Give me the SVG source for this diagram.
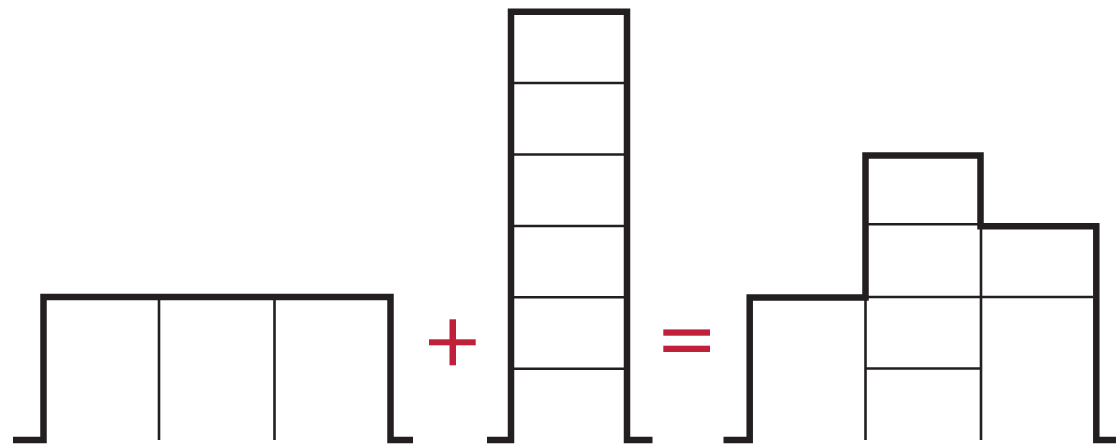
<svg xmlns="http://www.w3.org/2000/svg" width="1116" height="448" viewBox="0 0 1116 448">
<style>
.thick{fill:none;stroke:#231f20;stroke-width:6.5;stroke-linejoin:miter;stroke-linecap:butt}
.thin{fill:none;stroke:#231f20;stroke-width:2.6;stroke-linecap:butt}
.red{fill:#c1203b}
</style>
<rect width="1116" height="448" fill="#ffffff"/>
<g id="building-low">
<polyline class="thick" points="13,440 43.5,440 43.5,297 390.5,297 390.5,440 413,440"/>
<line class="thin" x1="159" y1="300" x2="159" y2="440"/>
<line class="thin" x1="274.5" y1="300" x2="274.5" y2="440"/>
</g>
<g id="plus">
<rect class="red" x="429" y="339.3" width="46.7" height="6"/>
<rect class="red" x="449.5" y="319.3" width="6.5" height="46"/>
</g>
<g id="building-tower">
<polyline class="thick" points="487,440 511,440 511,11.7 627,11.7 627,440 652.5,440"/>
<line class="thin" x1="514" y1="83" x2="624" y2="83"/>
<line class="thin" x1="514" y1="154.5" x2="624" y2="154.5"/>
<line class="thin" x1="514" y1="226" x2="624" y2="226"/>
<line class="thin" x1="514" y1="297.3" x2="624" y2="297.3"/>
<line class="thin" x1="514" y1="368.7" x2="624" y2="368.7"/>
</g>
<g id="equals">
<rect class="red" x="663.3" y="329.4" width="46.7" height="6.3"/>
<rect class="red" x="663.3" y="345.7" width="46.7" height="6.3"/>
</g>
<g id="building-combined">
<polyline class="thick" points="723.5,440 749.7,440 749.7,297.5 865.5,297.5 865.5,155.5 980.5,155.5 980.5,226.3 1096.3,226.3 1096.3,440 1116,440"/>
<line class="thin" x1="868" y1="224.2" x2="978" y2="224.2"/>
<line class="thin" x1="868" y1="297" x2="1093" y2="297"/>
<line class="thin" x1="865.5" y1="368.5" x2="981" y2="368.5"/>
<line class="thin" x1="865.5" y1="300" x2="865.5" y2="440"/>
<line class="thin" x1="981" y1="229" x2="981" y2="440"/>
</g>
</svg>
